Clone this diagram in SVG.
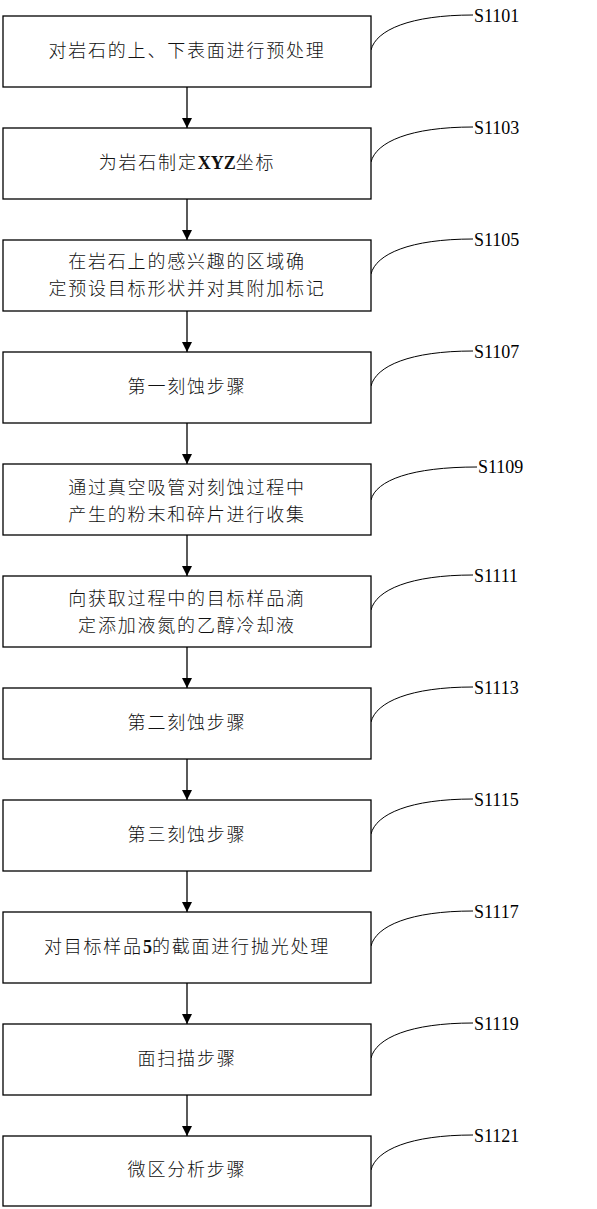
<svg xmlns="http://www.w3.org/2000/svg" width="597" height="1209" viewBox="0 0 597 1209">
<style>
.box{fill:#fff;stroke:#000;stroke-width:1.3}
.t{font-family:"Liberation Serif","Noto Sans CJK SC",serif;font-size:18px;font-weight:300;letter-spacing:1.8px;fill:#111;text-anchor:middle;dominant-baseline:central}
.b{font-weight:bold;letter-spacing:0}
.lb{font-family:"Liberation Serif",serif;font-size:18px;fill:#000}
.c{fill:none;stroke:#000;stroke-width:1}
.a{stroke:#000;stroke-width:1.3;fill:none}
</style>
<defs>
<marker id="ah" markerWidth="10" markerHeight="12" refX="10" refY="5" orient="auto" markerUnits="userSpaceOnUse">
<path d="M0,0 L10,5 L0,10 Z" fill="#000"/>
</marker>
</defs>
<rect width="597" height="1209" fill="#fff"/>
<g id="connectors">
<line class="a" x1="187" y1="87" x2="187" y2="128" marker-end="url(#ah)"/>
<line class="a" x1="187" y1="199" x2="187" y2="240" marker-end="url(#ah)"/>
<line class="a" x1="187" y1="311" x2="187" y2="352" marker-end="url(#ah)"/>
<line class="a" x1="187" y1="423" x2="187" y2="464" marker-end="url(#ah)"/>
<line class="a" x1="187" y1="535" x2="187" y2="576" marker-end="url(#ah)"/>
<line class="a" x1="187" y1="647" x2="187" y2="688" marker-end="url(#ah)"/>
<line class="a" x1="187" y1="759" x2="187" y2="800" marker-end="url(#ah)"/>
<line class="a" x1="187" y1="871" x2="187" y2="912" marker-end="url(#ah)"/>
<line class="a" x1="187" y1="983" x2="187" y2="1024" marker-end="url(#ah)"/>
<line class="a" x1="187" y1="1095" x2="187" y2="1136" marker-end="url(#ah)"/>
<path class="c" d="M371,50 C376,30 410,15 473,15"/>
<path class="c" d="M371,162 C376,142 410,127 473,127"/>
<path class="c" d="M371,274 C376,254 410,239 473,239"/>
<path class="c" d="M371,386 C376,366 410,351 473,351"/>
<path class="c" d="M371,500 C376,480 412,467 477,467"/>
<path class="c" d="M371,610 C376,590 410,575 473,575"/>
<path class="c" d="M371,722 C376,702 410,687 473,687"/>
<path class="c" d="M371,834 C376,814 410,799 473,799"/>
<path class="c" d="M371,946 C376,926 410,911 473,911"/>
<path class="c" d="M371,1058 C376,1038 410,1023 473,1023"/>
<path class="c" d="M371,1170 C376,1150 410,1135 473,1135"/>
</g>
<g id="n1"><rect class="box" x="3" y="16" width="368" height="71"/><text class="t" x="187" y="51">对岩石的上、下表面进行预处理</text><text class="lb" x="474" y="22">S1101</text></g>
<g id="n2"><rect class="box" x="3" y="128" width="368" height="71"/><text class="t" x="187" y="163">为岩石制定<tspan class="b">XYZ</tspan>坐标</text><text class="lb" x="474" y="134">S1103</text></g>
<g id="n3"><rect class="box" x="3" y="240" width="368" height="71"/><text class="t" x="187" y="262">在岩石上的感兴趣的区域确</text><text class="t" x="187" y="289">定预设目标形状并对其附加标记</text><text class="lb" x="474" y="246">S1105</text></g>
<g id="n4"><rect class="box" x="3" y="352" width="368" height="71"/><text class="t" x="187" y="387">第一刻蚀步骤</text><text class="lb" x="474" y="358">S1107</text></g>
<g id="n5"><rect class="box" x="3" y="464" width="368" height="71"/><text class="t" x="187" y="488">通过真空吸管对刻蚀过程中</text><text class="t" x="187" y="515">产生的粉末和碎片进行收集</text><text class="lb" x="478" y="473">S1109</text></g>
<g id="n6"><rect class="box" x="3" y="576" width="368" height="71"/><text class="t" x="187" y="599">向获取过程中的目标样品滴</text><text class="t" x="187" y="626">定添加液氮的乙醇冷却液</text><text class="lb" x="474" y="582">S1111</text></g>
<g id="n7"><rect class="box" x="3" y="688" width="368" height="71"/><text class="t" x="187" y="723">第二刻蚀步骤</text><text class="lb" x="474" y="694">S1113</text></g>
<g id="n8"><rect class="box" x="3" y="800" width="368" height="71"/><text class="t" x="187" y="835">第三刻蚀步骤</text><text class="lb" x="474" y="806">S1115</text></g>
<g id="n9"><rect class="box" x="3" y="912" width="368" height="71"/><text class="t" x="187" y="947">对目标样品<tspan class="b">5</tspan>的截面进行抛光处理</text><text class="lb" x="474" y="918">S1117</text></g>
<g id="n10"><rect class="box" x="3" y="1024" width="368" height="71"/><text class="t" x="187" y="1059">面扫描步骤</text><text class="lb" x="474" y="1030">S1119</text></g>
<g id="n11"><rect class="box" x="3" y="1136" width="368" height="70"/><text class="t" x="187" y="1170">微区分析步骤</text><text class="lb" x="474" y="1142">S1121</text></g>
</svg>
